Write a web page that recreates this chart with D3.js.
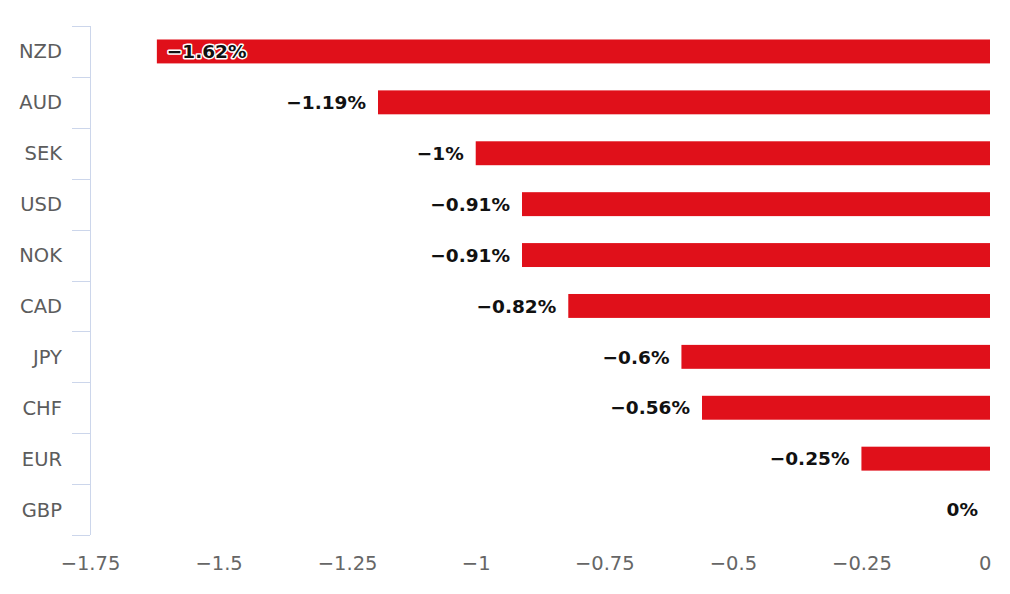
<!DOCTYPE html>
<html>
<head>
<meta charset="utf-8">
<script src="https://cdn.jsdelivr.net/npm/d3@7"></script>
<style>
  body { margin: 0; background: #fff; }
  svg { font-family: "DejaVu Sans", "Noto Sans", sans-serif; }
</style>
</head>
<body>
<div id="chart"></div>
<script>
// data
var currencies = ["NZD", "AUD", "SEK", "USD", "NOK", "CAD", "JPY", "CHF", "EUR", "GBP"];
var changes = [-1.62, -1.19, -1, -0.91, -0.91, -0.82, -0.6, -0.56, -0.25, 0];
var xTicks = [-1.75, -1.5, -1.25, -1, -0.75, -0.5, -0.25, 0];

var svgWidth = 1010;
var svgHeight = 594;

// plot area
var plotLeft = 90;
var plotRight = 990;
var plotTop = 26;
var plotBottom = 535;

var svg = d3.select("#chart")
  .append("svg")
  .attr("width", svgWidth)
  .attr("height", svgHeight);

var data = currencies.map(function(c, i) {
  return { name: c, value: changes[i] };
});

var xScale = d3.scaleLinear()
  .domain([-1.75, 0])
  .range([plotLeft, plotRight]);

var yScale = d3.scaleBand()
  .domain(currencies)
  .range([plotTop, plotBottom])
  .paddingInner(0.53)
  .paddingOuter(0.265);

function fmt(v) {
  return (v < 0 ? "\u2212" : "") + d3.format("~g")(Math.abs(v));
}

// category axis: line + ticks between categories
var yAxisG = svg.append("g").attr("class", "yAxis");
yAxisG.append("line")
  .attr("x1", plotLeft + 0.5).attr("x2", plotLeft + 0.5)
  .attr("y1", plotTop).attr("y2", plotBottom)
  .attr("stroke", "#ccd6eb");

var bounds = d3.range(currencies.length + 1).map(function(i) { return plotTop + i * (plotBottom - plotTop) / currencies.length; });
yAxisG.selectAll("line.tick")
  .data(bounds)
  .enter()
  .append("line")
  .attr("class", "tick")
  .attr("x1", plotLeft - 18).attr("x2", plotLeft)
  .attr("y1", function(d) { return Math.round(d) + 0.5; })
  .attr("y2", function(d) { return Math.round(d) + 0.5; })
  .attr("stroke", "#ccd6eb");

var bandMid = function(c) { return yScale(c) + yScale.bandwidth() / 2; };

yAxisG.selectAll("text")
  .data(currencies)
  .enter()
  .append("text")
  .attr("x", 62)
  .attr("y", function(d) { return bandMid(d); })
  .attr("dy", "0.36em")
  .attr("text-anchor", "end")
  .attr("font-size", 19.5)
  .attr("fill", "#5c5c5c")
  .text(function(d) { return d; });

// value axis labels only
var xAxis = d3.axisBottom(xScale)
  .tickValues(xTicks)
  .tickFormat(fmt)
  .tickSize(0)
  .tickPadding(0);

var xAxisG = svg.append("g")
  .attr("class", "xAxis")
  .attr("transform", "translate(0," + 556 + ")")
  .call(xAxis);
xAxisG.select(".domain").remove();
xAxisG.selectAll("text")
  .attr("font-size", 19.5)
  .attr("fill", "#666")
  .attr("font-family", "\"DejaVu Sans\", \"Noto Sans\", sans-serif");
// keep the last label inside the chart
xAxisG.selectAll("text").filter(function(d) { return d === 0; })
  .attr("text-anchor", "end")
  .attr("dx", 1);

// bars
svg.append("g").selectAll("rect")
  .data(data)
  .enter()
  .append("rect")
  .attr("x", function(d) { return xScale(d.value); })
  .attr("width", function(d) { return xScale(0) - xScale(d.value); })
  .attr("y", function(d) { return yScale(d.name); })
  .attr("height", yScale.bandwidth())
  .attr("fill", "#e0101a");

// value labels, pushed inside the plot when they do not fit
var labels = svg.append("g").selectAll("text")
  .data(data)
  .enter()
  .append("text")
  .attr("y", function(d) { return bandMid(d.name); })
  .attr("dy", "0.36em")
  .attr("font-size", 18.5)
  .attr("font-weight", "bold")
  .attr("fill", "#111")
  .attr("stroke", "#fff")
  .attr("stroke-width", 3)
  .attr("stroke-linejoin", "round")
  .attr("paint-order", "stroke")
  .text(function(d) { return fmt(d.value) + "%"; });

labels.each(function(d) {
  var w = this.getComputedTextLength();
  var x = xScale(d.value) - 12 - w;
  if (x < plotLeft + 10) x = xScale(d.value) + 10;
  d3.select(this).attr("x", x);
});
</script>
</body>
</html>
